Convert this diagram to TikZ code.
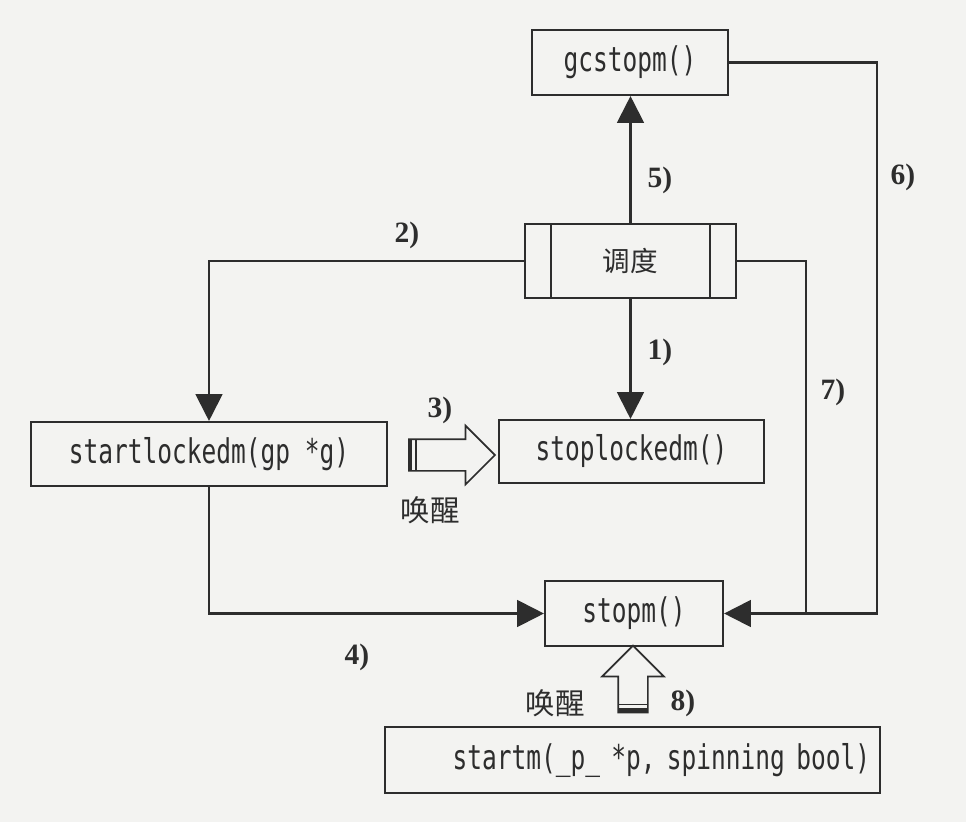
\documentclass[tikz,border=0pt]{standalone}
\usepackage{fontspec}
\setmainfont{Liberation Serif}
\setmonofont[FakeStretch=0.72]{DejaVu Sans Mono}
\newfontfamily\cjk{Noto Sans CJK SC}
\definecolor{ink}{RGB}{45, 45, 45}
\definecolor{paper}{RGB}{243, 243, 241}
\usetikzlibrary{shapes.arrows, arrows.meta, calc}

\begin{document}
\begin{tikzpicture}[x=0.025cm, y=-0.025cm, line width=1.5pt,
  fnbox/.style={draw=ink, rectangle, inner sep=0pt, text=ink, font=\fontsize{24.2}{26}\selectfont\ttfamily},
  schedbox/.style={draw=ink, rectangle, inner sep=0pt, text=ink, font=\cjk\fontsize{19.6}{22}\selectfont,
    path picture={\draw[ink, line width=1.5pt]
      ([xshift=0.65cm]path picture bounding box.north west) -- ([xshift=0.65cm]path picture bounding box.south west)
      ([xshift=-0.65cm]path picture bounding box.north east) -- ([xshift=-0.65cm]path picture bounding box.south east);}},
  flow/.style={draw=ink, -{Triangle[length=0.67cm, width=0.67cm]}},
  numlabel/.style={text=ink, inner sep=0pt, font=\bfseries\fontsize{21}{24}\selectfont},
  wakelabel/.style={text=ink, inner sep=0pt, font=\cjk\fontsize{21}{24}\selectfont},
  hollow/.style={single arrow, draw=ink, inner xsep=0pt, line width=1.2pt}]

  \fill[paper] (0,0) rectangle (966,822);
  \useasboundingbox (0,0) rectangle (966,822);

  \node[fnbox, minimum width=4.9cm, minimum height=1.625cm] (gcstopm) at (630,62.5) {gcstopm()};
  \node[schedbox, minimum width=5.275cm, minimum height=1.85cm] (sched) at (630.5,261) {调度};
  \node[fnbox, minimum width=6.625cm, minimum height=1.575cm] (stoplockedm) at (631.5,451.5) {stoplockedm()};
  \node[fnbox, minimum width=8.9cm, minimum height=1.6cm] (startlockedm) at (209,454) {startlockedm(gp *g)};
  \node[fnbox, minimum width=4.45cm, minimum height=1.625cm] (stopm) at (634,613.5) {stopm()};
  \node[fnbox, minimum width=12.375cm, minimum height=1.65cm, inner xsep=0.25cm, text width=11.875cm, align=right] (startm) at (632.5,760) {\mbox{startm(\_p\_ *p, spinning bool)}};

  \coordinate (r6) at (877,400);
  \coordinate (j7) at ($(stopm.east)+(82,0)$);

  \draw[flow] (sched.south) -- (sched.south |- stoplockedm.north);
  \draw[flow] (sched.west) -| (startlockedm.north);
  \draw[flow] (startlockedm.south) |- (stopm.west);
  \draw[flow] (sched.north) -- (sched.north |- gcstopm.south);
  \draw[flow] (gcstopm.east) -| (r6) |- (stopm.east);
  \draw[ink] (sched.east) -| (j7);

  \node[hollow, minimum height=2.15cm, inner ysep=0.375cm, single arrow head extend=0.3375cm] (wake3) at (444,455) {};
  \fill[ink] ($(wake3.tail)+(0,-15)$) rectangle ($(wake3.tail)+(4,15)$);
  \draw[ink, line width=0.9pt] ($(wake3.tail)+(8,-15)$) -- ($(wake3.tail)+(8,15)$);

  \node[hollow, rotate=90, minimum height=1.675cm, inner ysep=0.35cm, single arrow head extend=0.4cm] (wake8) at (633,686.5) {};
  \fill[ink] ($(wake8.tail)+(-14,0)$) rectangle ($(wake8.tail)+(14,-5)$);
  \draw[ink, line width=0.9pt] ($(wake8.tail)+(-14,-9)$) -- ($(wake8.tail)+(14,-9)$);

  \node[numlabel] (n1) at (660,352) {1)};
  \node[numlabel] (n2) at (407,235) {2)};
  \node[numlabel] (n3) at (440,410) {3)};
  \node[numlabel] (n4) at (357,657) {4)};
  \node[numlabel] (n5) at (660,180) {5)};
  \node[numlabel] (n6) at (903,177) {6)};
  \node[numlabel] (n7) at (833,392) {7)};
  \node[numlabel] (n8) at (683,703) {8)};
  \node[wakelabel] (wake3txt) at (430,510) {唤醒};
  \node[wakelabel] (wake8txt) at (555,703) {唤醒};
\end{tikzpicture}
\end{document}
